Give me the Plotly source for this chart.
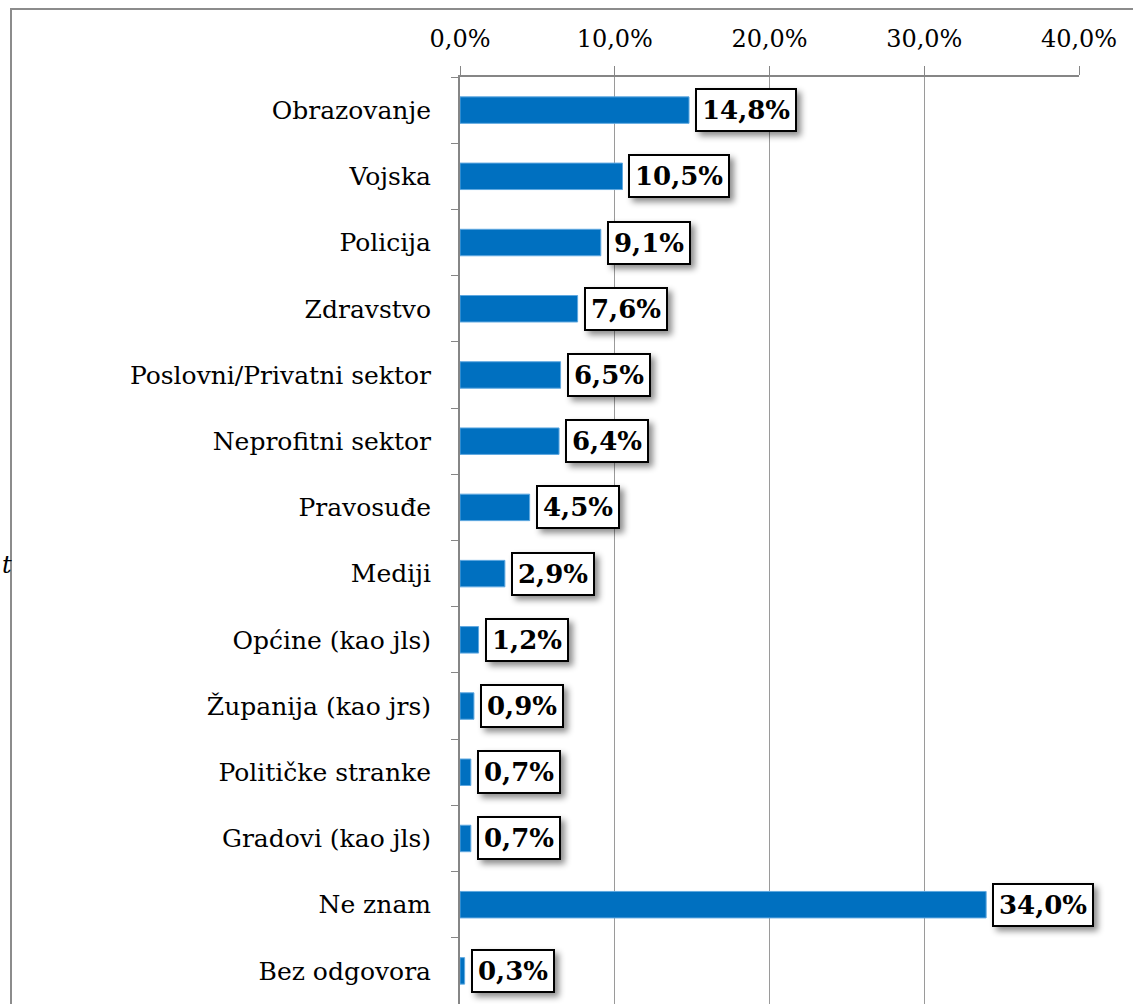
import plotly.graph_objects as go

categories = ["Obrazovanje", "Vojska", "Policija", "Zdravstvo", "Poslovni/Privatni sektor",
              "Neprofitni sektor", "Pravosuđe", "Mediji", "Općine (kao jls)", "Županija (kao jrs)",
              "Političke stranke", "Gradovi (kao jls)", "Ne znam", "Bez odgovora"]
values = [14.8, 10.5, 9.1, 7.6, 6.5, 6.4, 4.5, 2.9, 1.2, 0.9, 0.7, 0.7, 34.0, 0.3]
tick_vals = [0, 0.1, 0.2, 0.3, 0.4]

W, H = 1133, 1004
ML, MR, MT, MB = 460, 1133 - 1079, 77, 0
pw, ph = W - ML - MR, H - MT - MB

def px_x(p):
    return (p - ML) / pw

def px_y(p):
    return (H - MB - p) / ph

fracs = [v / 100 for v in values]
labels = [f"{v:.1f}".replace(".", ",") + "%" for v in values]

fig = go.Figure(go.Bar(
    y=categories, x=fracs, orientation="h",
    marker=dict(color="#0070C0", line=dict(color="#5FA8E0", width=1)),
    width=0.4, hoverinfo="skip"))

serif = "DejaVu Serif"
anns = []
for c, f, t in zip(categories, fracs, labels):
    anns.append(dict(x=f, y=c, xref="x", yref="y", text=f"<b>{t}</b>", showarrow=False,
                     xanchor="left", yanchor="middle", xshift=6,
                     font=dict(family=serif, size=26, color="black"),
                     bgcolor="white", bordercolor="black", borderwidth=2, borderpad=5))

anns.append(dict(x=px_x(0), y=px_y(565), xref="paper", yref="paper", text="<i>t</i>",
                 showarrow=False, xanchor="left", yanchor="middle",
                 font=dict(family=serif, size=24, color="black")))

fig.update_layout(
    width=W, height=H, margin=dict(l=ML, r=MR, t=MT, b=MB, pad=0),
    paper_bgcolor="white", plot_bgcolor="white", showlegend=False,
    separators=", ", annotations=anns,
    xaxis=dict(side="top", range=[0, 0.4], tickvals=tick_vals, tickformat=".1%",
               showgrid=True, gridcolor="#9A9A9A", gridwidth=1,
               showline=True, linecolor="#868686", linewidth=2,
               ticks="outside", ticklen=9, tickcolor="#868686", tickwidth=1,
               ticklabelstandoff=9,
               tickfont=dict(family=serif, size=24, color="black"), zeroline=False),
    yaxis=dict(autorange=False, range=[13.5, -0.5], type="category",
               showline=True, linecolor="#868686", linewidth=2,
               ticks="outside", ticklen=7, tickcolor="#868686", tickson="boundaries",
               ticklabelstandoff=22,
               tickfont=dict(family=serif, size=25, color="black"), showgrid=False),
    shapes=[dict(type="rect", xref="paper", yref="paper",
                 x0=px_x(11), x1=px_x(1250), y0=px_y(1100), y1=px_y(9),
                 line=dict(color="#8C8C8C", width=2), fillcolor="rgba(0,0,0,0)", layer="below")],
)

post = (
    "document.body.style.margin='0';document.body.style.overflow='hidden';"
    "document.querySelectorAll('.annotation rect.bg').forEach(function(r){"
    "if(r.getAttribute('style') && r.getAttribute('style').indexOf('stroke: rgb(0, 0, 0)')>=0 ||"
    " (r.style.stroke||'').indexOf('0, 0, 0')>=0){"
    "r.style.filter='drop-shadow(4px 4px 3px rgba(0,0,0,0.45))';}});"
)

fig.write_html("out.html", config={"displayModeBar": False}, post_script=post)
